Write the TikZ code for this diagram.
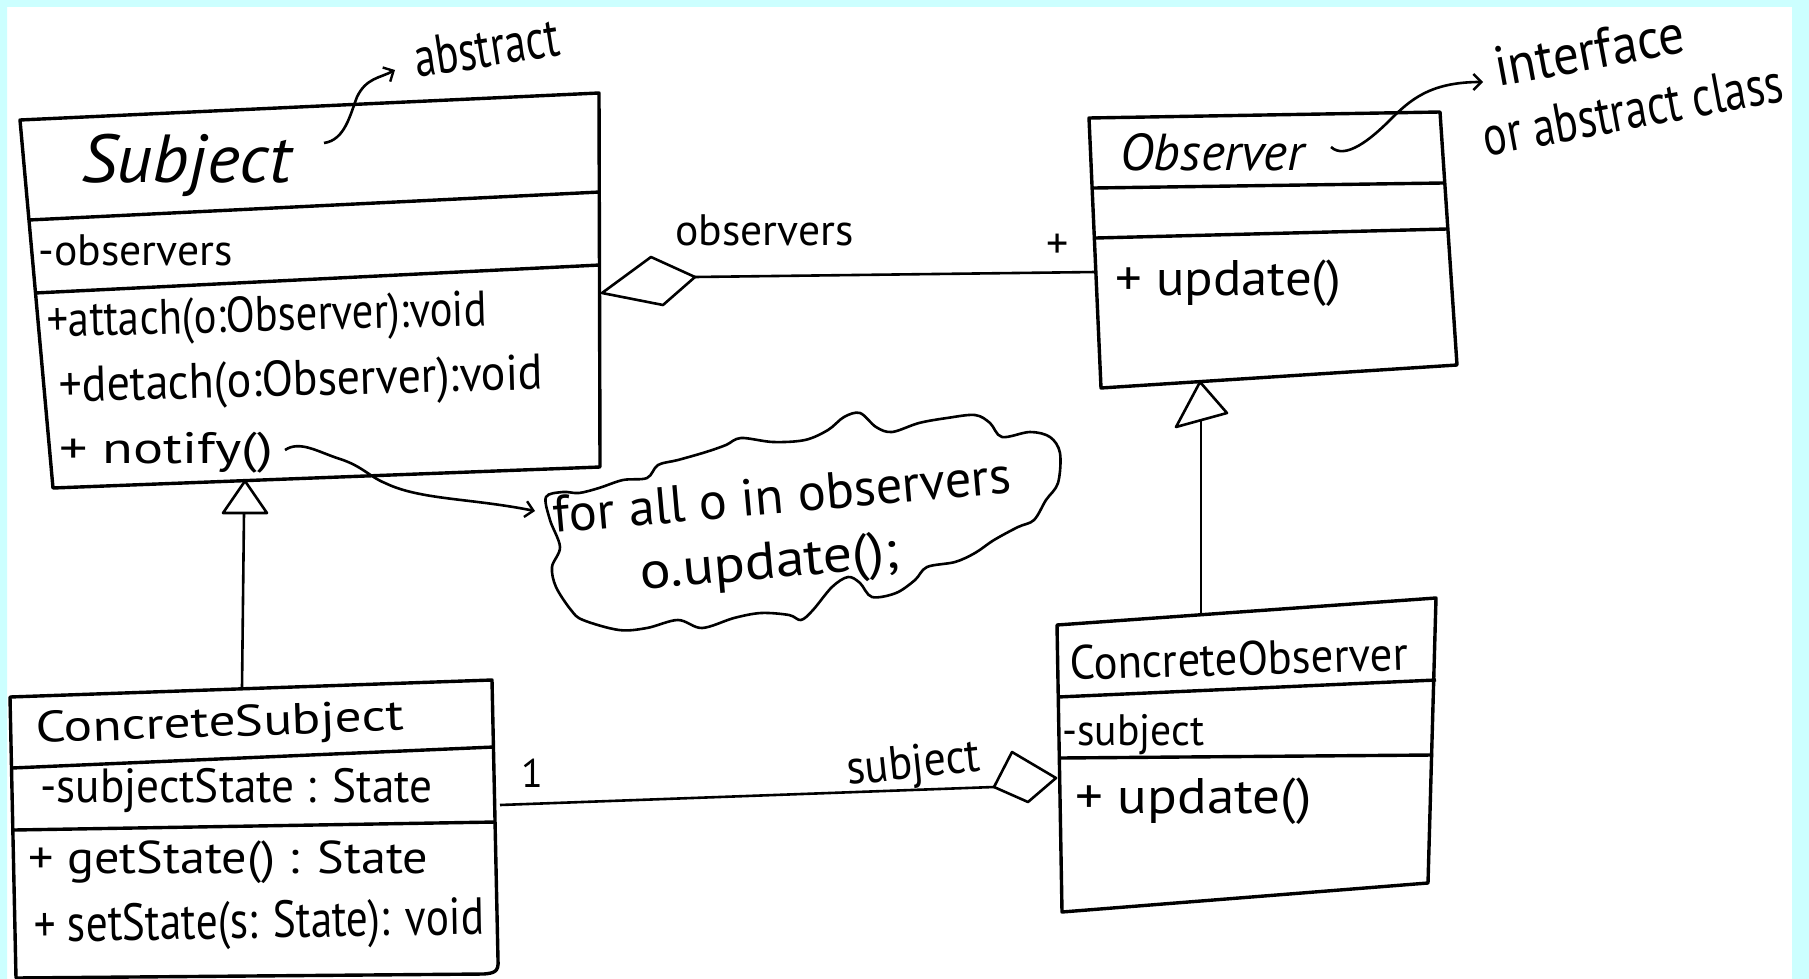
\documentclass[tikz,border=0pt]{standalone}
\usepackage{fontspec}
\usepackage{graphicx}
\setmainfont{PT Sans}
\usetikzlibrary{arrows.meta,calc}
\definecolor{framecyan}{HTML}{CCFFFF}
% squeeze a text to a given width, keeping its height
\newcommand\hw[2]{\resizebox{#1}{\height}{#2}}
\newcommand\fs[1]{\fontsize{#1}{#1}\selectfont}

\begin{document}
\begin{tikzpicture}[x=0.5pt,y=-0.5pt,
  box/.style={line width=1.7pt,line join=round},
  link/.style={line width=1.3pt,line join=round},
  barb/.style={-{Straight Barb[length=4pt,width=8pt,line width=1.2pt]}},
  txt/.style={anchor=base west,inner sep=0pt},
  lbl/.style={anchor=center,inner sep=0pt}]

\useasboundingbox (0,0) rectangle (1809,979);
\fill[white] (0,0) rectangle (1809,979);

% ---------- Subject ----------
\coordinate (s1) at (20,120);  \coordinate (s2) at (599,93);
\coordinate (s3) at (600,467); \coordinate (s4) at (53,488);
\draw[box] (s1) -- (s2) -- (s3) -- (s4) -- cycle;
\draw[box] (29,220) -- (600,192);
\draw[box] (35,293) -- (600,265);
\node[txt] (subjName) at (81,183) {\fs{34}\itshape\hw{105pt}{Subject}};
\node[txt] (subjAttr) at (38,265) {\fs{22}\hw{97pt}{-observers}};
\node[txt,rotate=1.5] (attach) at (47,337) {\fs{25}\hw{220pt}{+attach(o:Observer):void}};
\node[txt,rotate=1.5] (detach) at (59,402) {\fs{25}\hw{242pt}{+detach(o:Observer):void}};
\node[txt] (notify) at (59,463) {\fs{22}\hw{107pt}{+ notify()}};

% ---------- Observer ----------
\coordinate (o1) at (1089,118); \coordinate (o2) at (1440,112);
\coordinate (o3) at (1457,365); \coordinate (o4) at (1101,388);
\draw[box] (o1) -- (o2) -- (o3) -- (o4) -- cycle;
\draw[box] (1094,188) -- (1443,183);
\draw[box] (1096,238) -- (1447,229);
\node[txt] (obsName) at (1120,170) {\fs{26}\itshape\hw{92pt}{Observer}};
\node[txt] (obsUpd) at (1115,295) {\fs{25}\hw{113pt}{+ update()}};

% ---------- ConcreteSubject ----------
\coordinate (c1) at (10,697);  \coordinate (c2) at (492,680);
\coordinate (c3) at (498,960); \coordinate (c4) at (16,978);
\draw[box] (c1) -- (c2) -- (c3) .. controls (499,972) and (494,973) .. (484,974) -- (c4) -- cycle;
\draw[box] (12,768) -- (494,747);
\draw[box] (14,830) -- (496,822);
\node[txt,rotate=2] (csName) at (36,743) {\fs{22}\hw{184pt}{ConcreteSubject}};
\node[txt] (csAttr) at (40,802) {\fs{24}\hw{196pt}{-subjectState : State}};
\node[txt] (getS) at (28,873) {\fs{23}\hw{200pt}{+ getState() : State}};
\node[txt,rotate=1] (setS) at (34,942) {\fs{26}\hw{225pt}{+ setState(s: State): void}};

% ---------- ConcreteObserver ----------
\coordinate (k1) at (1057,625); \coordinate (k2) at (1436,598);
\coordinate (k3) at (1428,883); \coordinate (k4) at (1062,912);
\draw[box] (k1) -- (k2) -- (k3) -- (k4) -- cycle;
\draw[box] (1058,697) -- (1436,680);
\draw[box] (1060,758) -- (1433,755);
\node[txt,rotate=1.7] (coName) at (1070,680) {\fs{24}\hw{169pt}{ConcreteObserver}};
\node[txt] (coAttr) at (1062,745) {\fs{22}\hw{71pt}{-subject}};
\node[txt] (coUpd) at (1075,813) {\fs{25}\hw{118pt}{+ update()}};

% ---------- aggregation Subject -> Observer ----------
\coordinate (aggS) at (602,293);
\coordinate (aggSr) at (695,277);
\coordinate (obsL) at (1096,272);
\draw[link] (aggS) -- (651,257) -- (aggSr) -- (663,305) -- cycle;
\draw[link] (aggSr) -- (obsL);
\node[txt] (obsRole) at (675,245) {\fs{22}\hw{89pt}{observers}};
\node[lbl] (obsMult) at (1058,246) {\fs{22}+};

% ---------- aggregation ConcreteObserver -> ConcreteSubject ----------
\coordinate (csR) at (500,805);
\coordinate (aggK) at (1056,778);
\coordinate (aggKl) at (994,787);
\draw[link] (aggK) -- (1012,752) -- (aggKl) -- (1028,802) -- cycle;
\draw[link] (csR) -- (aggKl);
\node[lbl] (csMult) at (532,773) {\fs{20}1};
\node[txt,rotate=6] (subjRole) at (848,785) {\fs{24}\hw{67pt}{subject}};

% ---------- generalisations ----------
\coordinate (genS) at (245,481);
\coordinate (genSb) at (244,513);
\coordinate (csT) at (242,688);
\draw[link] (genS) -- (223,513) -- (267,513) -- cycle;
\draw[link] (genSb) -- (csT);

\coordinate (genO) at (1200,382);
\coordinate (genOb) at (1201,420);
\coordinate (coT) at (1201,615);
\draw[link] (genO) -- (1176,427) -- (1227,413) -- cycle;
\draw[link] (genOb) -- (coT);

% ---------- note cloud ----------
\draw[link] plot[smooth cycle,tension=0.55] coordinates {
 (546,497) (550,520) (560,547) (552,567) (556,587) (571,610) (583,620)
 (619,630) (647,628) (678,620) (702,628) (734,618) (761,613) (789,615)
 (801,620) (813,610) (832,587) (848,577) (860,583) (872,597) (896,593)
 (915,580) (927,567) (955,562) (975,553) (994,540) (1018,527) (1034,520)
 (1046,500) (1058,483) (1060,453) (1050,437) (1030,432) (1002,437)
 (990,423) (975,415) (947,418) (919,423) (892,432) (876,427) (860,413)
 (844,417) (828,430) (805,440) (773,442) (741,438) (726,445) (706,452)
 (678,460) (658,465) (647,478) (623,480) (599,488) (579,493) (563,492)};
\node[txt,rotate=5] (loopNote) at (554,533) {\fontsize{26}{32}\selectfont
  \begin{tabular}[t]{@{}l@{}}
  \hw{230pt}{for all o in observers}\\
  \hspace*{41pt}\hw{130pt}{o.update();}
  \end{tabular}};

\coordinate (nq) at (285,450);
\coordinate (nm) at (385,483);
\coordinate (cloudL) at (535,511);
\draw[link,barb] (nq) .. controls (300,440) and (318,452) .. (340,459)
   .. controls (362,466) and (370,477) .. (nm)
   .. controls (420,500) and (470,498) .. (cloudL);

% ---------- annotations ----------
\node[txt,rotate=9] (absNote) at (417,78) {\fs{28}\hw{73pt}{abstract}};
\coordinate (absFrom) at (324,143);
\coordinate (absTo) at (395,70);
\draw[link,barb] (absFrom) .. controls (345,140) and (350,115) .. (357,97)
   .. controls (366,78) and (380,78) .. (absTo);

\node[txt,rotate=10.5] (ifNote) at (1498,87) {\fontsize{28}{33}\selectfont
  \begin{tabular}[t]{@{}l@{}}
  \hw{96pt}{interface}\\
  \hspace*{-12pt}\hw{152pt}{or abstract class}
  \end{tabular}};
\coordinate (ifFrom) at (1331,147);
\coordinate (ifTo) at (1483,82);
\draw[link,barb] (ifFrom) .. controls (1345,160) and (1370,140) .. (1390,120)
   .. controls (1410,100) and (1430,82) .. (ifTo);

% ---------- frame ----------
\fill[framecyan,even odd rule] (0,0) rectangle (1809,979) (7,7) rectangle (1792,980);
\end{tikzpicture}
\end{document}
